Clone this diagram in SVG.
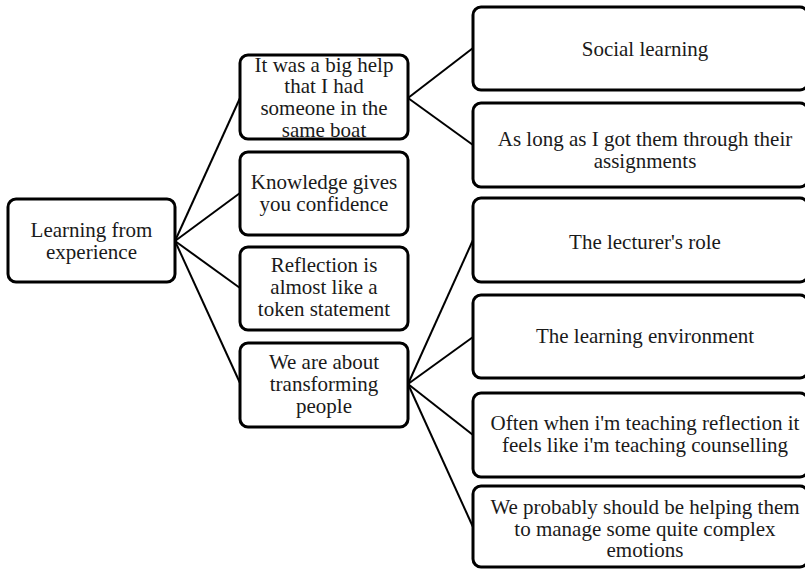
<svg xmlns="http://www.w3.org/2000/svg" width="805" height="569" viewBox="0 0 805 569">
<style>
.box{fill:#fff;stroke:#000;stroke-width:3}
.lnk{stroke:#000;stroke-width:2;fill:none}
text{font-family:"Liberation Serif","Times New Roman",serif;font-size:21px;fill:#1a1a1a;text-anchor:middle}
</style>
<rect width="805" height="569" fill="#fff"/>
<g id="connectors">
<line class="lnk" x1="175" y1="241" x2="240" y2="98"/>
<line class="lnk" x1="175" y1="241" x2="240" y2="193"/>
<line class="lnk" x1="175" y1="241" x2="240" y2="288"/>
<line class="lnk" x1="175" y1="241" x2="240" y2="383"/>
<line class="lnk" x1="408" y1="98" x2="473" y2="48"/>
<line class="lnk" x1="408" y1="98" x2="473" y2="145"/>
<line class="lnk" x1="408" y1="384" x2="473" y2="240"/>
<line class="lnk" x1="408" y1="384" x2="473" y2="337"/>
<line class="lnk" x1="408" y1="384" x2="473" y2="435"/>
<line class="lnk" x1="408" y1="384" x2="473" y2="527"/>
</g>
<g id="root">
<rect class="box" x="8" y="199" width="167" height="83" rx="8"/>
<text x="91.5" y="237">Learning from</text>
<text x="91.5" y="258.5">experience</text>
</g>
<g id="n1">
<rect class="box" x="240" y="55" width="168" height="84" rx="8"/>
<text x="324" y="71.5">It was a big help</text>
<text x="324" y="93.3">that I had</text>
<text x="324" y="115">someone in the</text>
<text x="324" y="136.8">same boat</text>
</g>
<g id="n2">
<rect class="box" x="240" y="152" width="168" height="83" rx="8"/>
<text x="324" y="188.5">Knowledge gives</text>
<text x="324" y="210.5">you confidence</text>
</g>
<g id="n3">
<rect class="box" x="240" y="247" width="168" height="83" rx="8"/>
<text x="324" y="272">Reflection is</text>
<text x="324" y="294">almost like a</text>
<text x="324" y="316">token statement</text>
</g>
<g id="n4">
<rect class="box" x="240" y="343" width="168" height="84" rx="8"/>
<text x="324" y="368.5">We are about</text>
<text x="324" y="390.5">transforming</text>
<text x="324" y="412.5">people</text>
</g>
<g id="m1">
<rect class="box" x="473" y="7" width="335" height="83" rx="8"/>
<text x="645" y="56">Social learning</text>
</g>
<g id="m2">
<rect class="box" x="473" y="103" width="335" height="84" rx="8"/>
<text x="645" y="146">As long as I got them through their</text>
<text x="645" y="167.5">assignments</text>
</g>
<g id="m3">
<rect class="box" x="473" y="198" width="335" height="84" rx="8"/>
<text x="645" y="249">The lecturer's role</text>
</g>
<g id="m4">
<rect class="box" x="473" y="295" width="335" height="83" rx="8"/>
<text x="645" y="343">The learning environment</text>
</g>
<g id="m5">
<rect class="box" x="473" y="393" width="335" height="84" rx="8"/>
<text x="645" y="430">Often when i'm teaching reflection it</text>
<text x="645" y="451.5">feels like i'm teaching counselling</text>
</g>
<g id="m6">
<rect class="box" x="473" y="486" width="335" height="81" rx="8"/>
<text x="645" y="513.5">We probably should be helping them</text>
<text x="645" y="535.5">to manage some quite complex</text>
<text x="645" y="557">emotions</text>
</g>
</svg>
